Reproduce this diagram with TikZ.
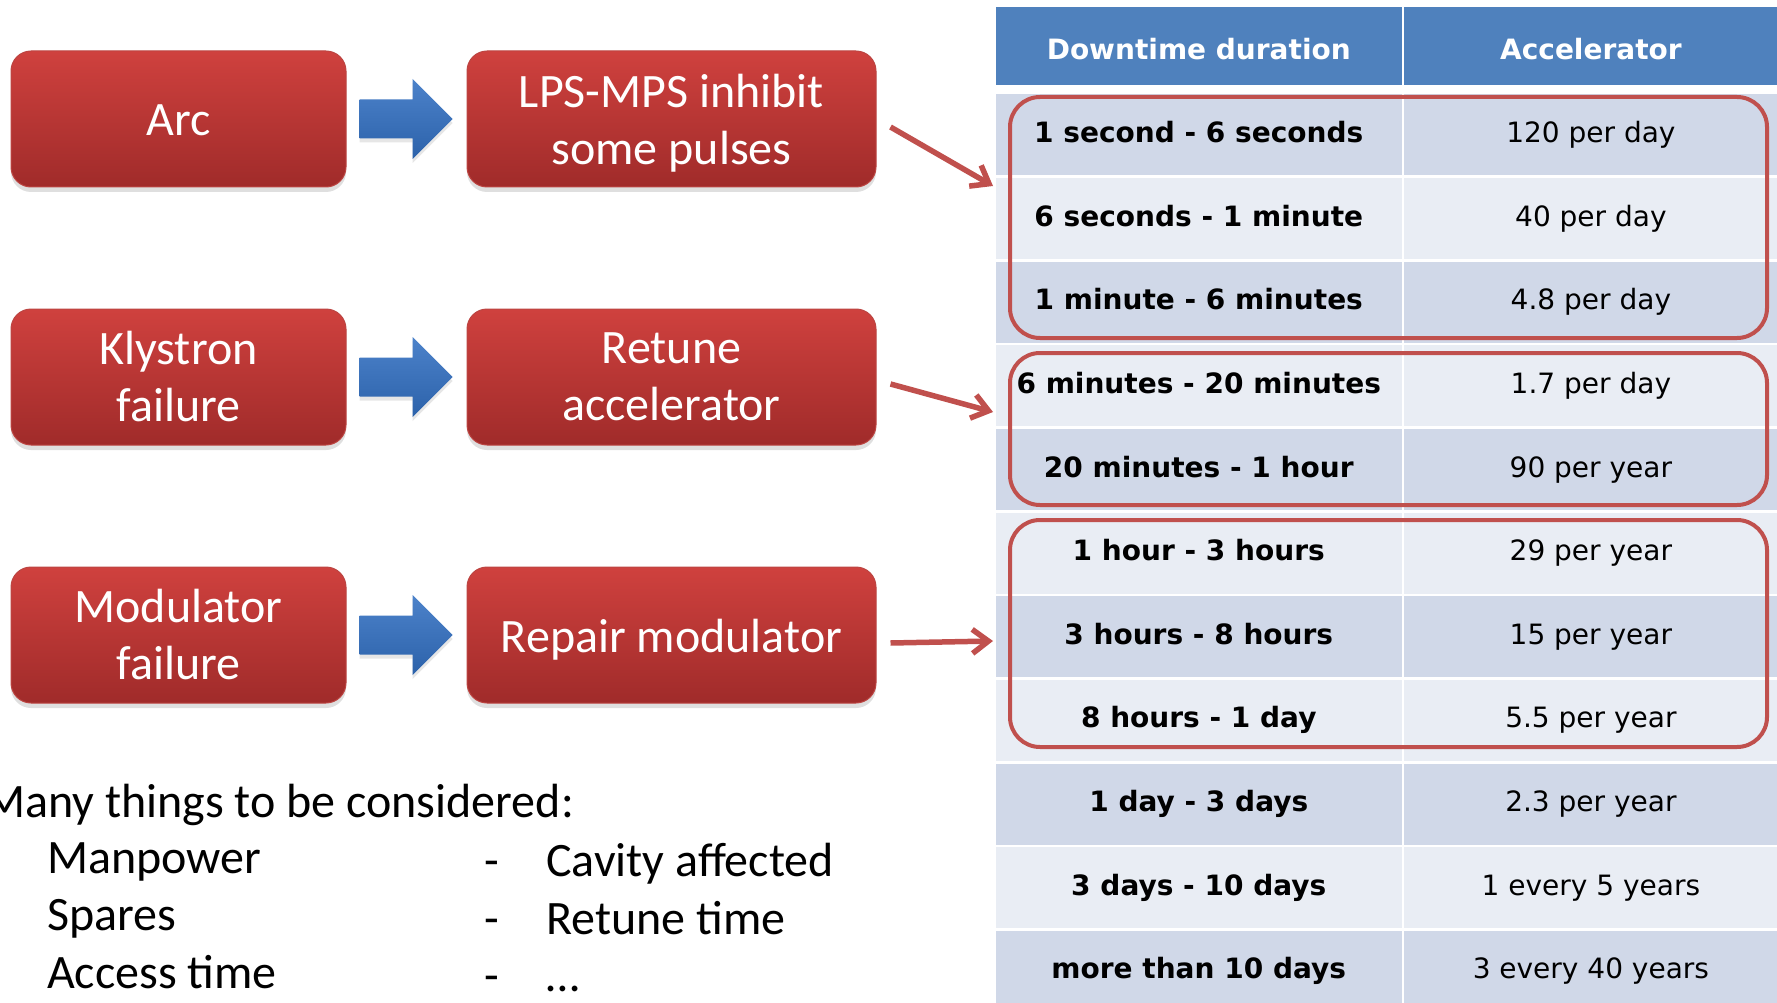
\documentclass[tikz,border=0pt]{standalone}
\usepackage{fontspec}
\setmainfont{Carlito}
\newfontfamily\tabfont{DejaVu Sans}
\usepackage{xcolor}
\usepackage{tikz}
\usetikzlibrary{positioning,calc,arrows.meta,shadows}

\definecolor{boxtop}{HTML}{CF413E}
\definecolor{boxbot}{HTML}{A02B2A}
\definecolor{boxline}{HTML}{BC4542}
\definecolor{arrtop}{HTML}{4C82CA}
\definecolor{arrbot}{HTML}{2C62AA}
\definecolor{accred}{HTML}{C0504D}
\definecolor{headblue}{HTML}{4F81BD}
\definecolor{rowdark}{HTML}{D0D8E8}
\definecolor{rowlight}{HTML}{E9EDF4}

\begin{document}
\begin{tikzpicture}[x=1pt, y=-1pt,
  redbox/.style={draw=boxline, line width=1pt, rounded corners=20pt, top color=boxtop, bottom color=boxbot,
    text=white, align=center, minimum height=136pt, inner sep=4pt, font=\fontsize{48}{57}\selectfont,
    drop shadow={shadow xshift=0pt, shadow yshift=-5pt, opacity=0.25}},
  bluearrow/.style={top color=arrtop, bottom color=arrbot,
    drop shadow={shadow xshift=0pt, shadow yshift=-4pt, opacity=0.2}},
  redarrow/.style={draw=accred, line width=5.5pt, -{Straight Barb[length=16pt,width=24pt]}},
  hcell/.style={fill=headblue, text=white, minimum height=78pt, inner sep=0pt, text height=26.5pt, text depth=0pt,
    font=\tabfont\bfseries\fontsize{28}{34}\selectfont},
  dcell/.style={minimum height=81pt, inner sep=0pt, text height=21pt, text depth=6pt,
    font=\tabfont\bfseries\fontsize{28}{34}\selectfont, minimum width=405.5pt},
  vcell/.style={minimum height=81pt, inner sep=0pt, text height=21pt, text depth=6pt,
    font=\tabfont\fontsize{28}{34}\selectfont, minimum width=373pt},
  grpbox/.style={draw=accred, line width=4pt, rounded corners=30pt},
  listtext/.style={anchor=base west, inner sep=0pt, font=\fontsize{48}{57}\selectfont}]
  \useasboundingbox (0,0) rectangle (1777,1003);

  % failure -> action boxes
  \node[redbox, minimum width=335pt, text height=40pt, text depth=6pt] (arc) at (178.5,119) {Arc};
  \node[redbox, minimum width=409pt, right=120pt of arc] (lps) {LPS-MPS inhibit\\\raisebox{0pt}[\height][0pt]{some pulses}};
  \node[redbox, minimum width=335pt, below=121pt of arc] (kly) {Klystron\\failure};
  \node[redbox, minimum width=409pt, right=120pt of kly] (retune) {Retune\\accelerator};
  \node[redbox, minimum width=335pt, below=121pt of kly] (mod) {Modulator\\failure};
  \node[redbox, minimum width=409pt, right=120pt of mod, text height=40pt, text depth=6pt] (repair) {Repair modulator};

  \path[bluearrow] ($(arc.east)+(13,-19.5)$) -- ++(53,0) -- ++(0,-20.5) -- ++(40,40) -- ++(-40,40) -- ++(0,-20.5) -- ++(-53,0) -- cycle;
  \path[bluearrow] ($(kly.east)+(13,-19.5)$) -- ++(53,0) -- ++(0,-20.5) -- ++(40,40) -- ++(-40,40) -- ++(0,-20.5) -- ++(-53,0) -- cycle;
  \path[bluearrow] ($(mod.east)+(13,-19.5)$) -- ++(53,0) -- ++(0,-20.5) -- ++(40,40) -- ++(-40,40) -- ++(0,-20.5) -- ++(-53,0) -- cycle;

  % downtime table
  \node[hcell, minimum width=405.5pt] (h1) at (1198.75,46) {Downtime duration};
  \node[hcell, minimum width=373pt, right=2.5pt of h1] (h2) {Accelerator};

  \node[dcell, fill=rowdark, below=9pt of h1] (c1) {1 second - 6 seconds};
  \node[dcell, fill=rowlight, below=2.25pt of c1] (c2) {6 seconds - 1 minute};
  \node[dcell, fill=rowdark, below=2.25pt of c2] (c3) {1 minute - 6 minutes};
  \node[dcell, fill=rowlight, below=2.25pt of c3] (c4) {6 minutes - 20 minutes};
  \node[dcell, fill=rowdark, below=2.25pt of c4] (c5) {20 minutes - 1 hour};
  \node[dcell, fill=rowlight, below=2.25pt of c5] (c6) {1 hour - 3 hours};
  \node[dcell, fill=rowdark, below=2.25pt of c6] (c7) {3 hours - 8 hours};
  \node[dcell, fill=rowlight, below=2.25pt of c7] (c8) {8 hours - 1 day};
  \node[dcell, fill=rowdark, below=2.25pt of c8] (c9) {1 day - 3 days};
  \node[dcell, fill=rowlight, below=2.25pt of c9] (c10) {3 days - 10 days};
  \node[dcell, fill=rowdark, below=2.25pt of c10] (c11) {more than 10 days};

  \node[vcell, fill=rowdark, right=2.5pt of c1] (v1) {120 per day};
  \node[vcell, fill=rowlight, right=2.5pt of c2] (v2) {40 per day};
  \node[vcell, fill=rowdark, right=2.5pt of c3] (v3) {4.8 per day};
  \node[vcell, fill=rowlight, right=2.5pt of c4] (v4) {1.7 per day};
  \node[vcell, fill=rowdark, right=2.5pt of c5] (v5) {90 per year};
  \node[vcell, fill=rowlight, right=2.5pt of c6] (v6) {29 per year};
  \node[vcell, fill=rowdark, right=2.5pt of c7] (v7) {15 per year};
  \node[vcell, fill=rowlight, right=2.5pt of c8] (v8) {5.5 per year};
  \node[vcell, fill=rowdark, right=2.5pt of c9] (v9) {2.3 per year};
  \node[vcell, fill=rowlight, right=2.5pt of c10] (v10) {1 every 5 years};
  \node[vcell, fill=rowdark, right=2.5pt of c11] (v11) {3 every 40 years};

  % groups of rows
  \draw[grpbox] (1010,97) rectangle (1767,338);
  \draw[grpbox] (1010,353) rectangle (1767,505);
  \draw[grpbox] (1010,520) rectangle (1767,747);

  \coordinate (g1) at (993,186);
  \coordinate (g2) at (993,412);
  \coordinate (g3) at (993,641);
  \draw[redarrow] ($(lps.east)+(14,8)$) -- (g1);
  \draw[redarrow] ($(retune.east)+(14,7)$) -- (g2);
  \draw[redarrow] ($(repair.east)+(14,8)$) -- (g3);

  % notes
  \node[listtext] (many) at (-16,817) {Many things to be considered:};
  \node[listtext] (man) at (47,873) {Manpower};
  \node[listtext] (spa) at (47,930.5) {Spares};
  \node[listtext] (acc) at (47,988) {Access time};
  \node[listtext] (d1) at (484,876) {-};
  \node[listtext] (d2) at (484,934) {-};
  \node[listtext] (d3) at (484,991) {-};
  \node[listtext] (cav) at (546,876) {Cavity affected};
  \node[listtext] (ret) at (546,934) {Retune time};
  \node[listtext] (etc) at (546,991) {…};
\end{tikzpicture}
\end{document}
